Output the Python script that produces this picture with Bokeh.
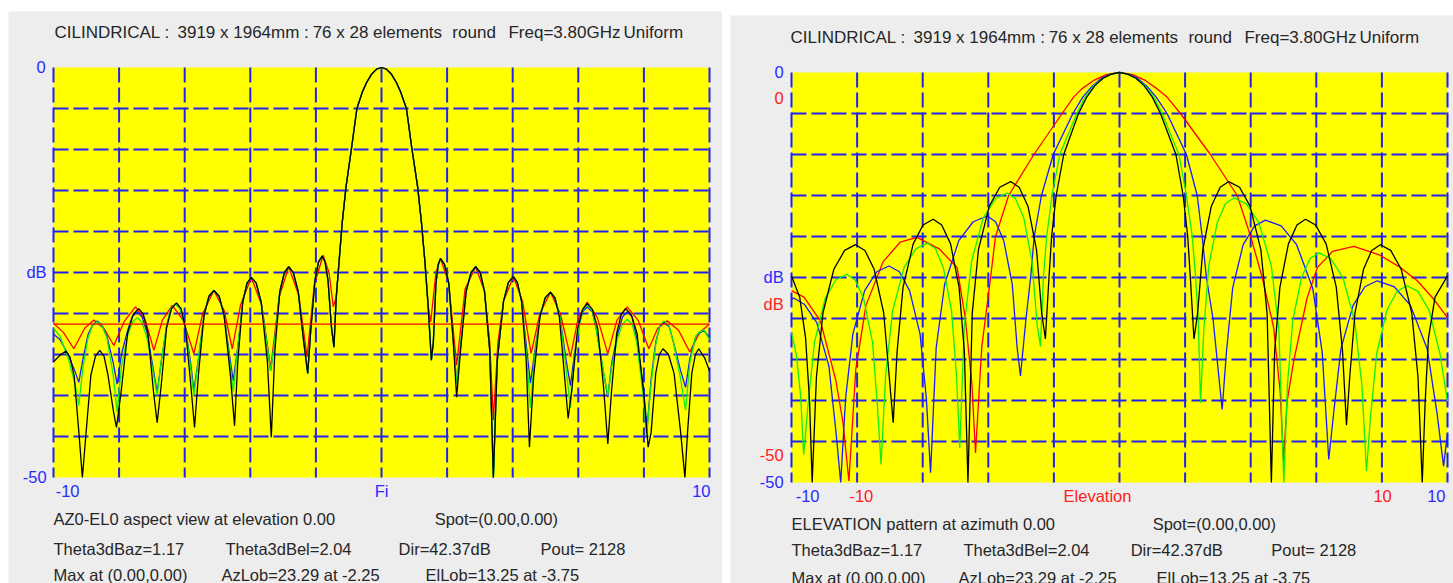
from bokeh.plotting import figure
from bokeh.models import Range1d, Label, Spacer
from bokeh.layouts import row, column
from bokeh.embed import file_html
from bokeh.resources import INLINE

# ---------------- azimuth cut (left panel): (degrees, dB) ----------------
az_main = [(-1.38, -28.0), (-1.30, -24.0), (-1.20, -19.0), (-1.08, -14.5), (-0.92, -10.0),
           (-0.75, -5.0), (-0.585, -3.0), (-0.45, -1.8), (-0.30, -0.8), (-0.15, -0.2),
           (0.0, 0.0), (0.15, -0.2), (0.30, -0.8), (0.45, -1.8), (0.585, -3.0), (0.76, -5.0),
           (0.93, -10.0), (1.10, -14.5), (1.22, -19.0), (1.33, -24.0), (1.42, -29.0)]

az_black_left = [(-10.0, -35.9), (-9.78, -35.0), (-9.63, -34.6), (-9.50, -35.3), (-9.37, -37.6),
                 (-9.22, -44.8), (-9.12, -50.0), (-9.01, -44.7), (-8.86, -37.5), (-8.72, -35.2),
                 (-8.59, -34.5), (-8.46, -35.2), (-8.34, -37.5), (-8.17, -42.0), (-8.08, -43.9),
                 (-7.94, -39.6), (-7.74, -32.4), (-7.57, -30.1), (-7.40, -29.4), (-7.26, -30.1),
                 (-7.12, -32.4), (-6.95, -39.6), (-6.84, -43.3), (-6.72, -38.9), (-6.55, -31.7),
                 (-6.40, -29.4), (-6.25, -28.7), (-6.11, -29.4), (-5.98, -31.7), (-5.81, -38.9),
                 (-5.70, -43.9), (-5.58, -37.4), (-5.41, -30.2), (-5.26, -27.9), (-5.11, -27.2),
                 (-4.95, -27.9), (-4.80, -30.2), (-4.61, -37.4), (-4.48, -43.7), (-4.38, -35.8),
                 (-4.23, -28.6), (-4.10, -26.3), (-3.97, -25.6), (-3.82, -26.3), (-3.67, -28.6),
                 (-3.48, -35.8), (-3.36, -45.1), (-3.25, -34.5), (-3.10, -27.3), (-2.96, -25.0),
                 (-2.83, -24.3), (-2.69, -25.0), (-2.54, -27.3), (-2.37, -33.5), (-2.25, -37.3),
                 (-2.16, -32.2), (-2.03, -26.0), (-1.92, -23.7), (-1.81, -23.0), (-1.72, -23.7),
                 (-1.63, -26.0), (-1.53, -31.5), (-1.45, -34.1)]
az_black_right = [(1.52, -35.7), (1.58, -33.5), (1.66, -26.3), (1.73, -24.0), (1.80, -23.3),
                  (1.92, -24.0), (2.05, -26.3), (2.19, -33.5), (2.29, -40.2), (2.41, -34.5),
                  (2.58, -27.3), (2.73, -25.0), (2.87, -24.3), (3.01, -25.0), (3.14, -27.3),
                  (3.30, -34.5), (3.41, -50.0), (3.53, -35.7), (3.72, -28.5), (3.87, -26.2),
                  (4.02, -25.5), (4.14, -26.2), (4.27, -28.5), (4.41, -35.7), (4.51, -46.3),
                  (4.64, -37.6), (4.83, -30.4), (4.99, -28.1), (5.15, -27.4), (5.29, -28.1),
                  (5.42, -30.4), (5.58, -37.6), (5.69, -42.8), (5.81, -39.0), (5.98, -31.8),
                  (6.13, -29.5), (6.27, -28.8), (6.43, -29.5), (6.59, -31.8), (6.77, -39.0),
                  (6.90, -45.9), (7.01, -39.6), (7.17, -32.4), (7.31, -30.1), (7.44, -29.4),
                  (7.61, -30.1), (7.79, -32.4), (7.99, -39.6), (8.13, -46.3), (8.22, -44.5),
                  (8.36, -37.3), (8.47, -35.0), (8.58, -34.3), (8.75, -35.0), (8.92, -37.3),
                  (9.12, -44.5), (9.25, -50.0), (9.33, -44.5), (9.46, -37.3), (9.57, -35.0),
                  (9.67, -34.3), (9.85, -35.4), (10.0, -37.0)]

az_blue_left = [(-10.0, -32.5), (-9.80, -33.2), (-9.55, -35.0), (-9.35, -37.0), (-9.23, -38.4),
                (-9.10, -35.5), (-8.95, -32.6), (-8.81, -31.4), (-8.67, -30.9), (-8.52, -31.4),
                (-8.37, -32.8), (-8.18, -36.0), (-8.06, -38.6), (-7.93, -35.0), (-7.75, -32.2),
                (-7.60, -30.4), (-7.45, -29.8), (-7.30, -30.4), (-7.15, -32.3), (-6.97, -36.5),
                (-6.84, -39.6), (-6.72, -36.0), (-6.55, -31.5), (-6.42, -29.4), (-6.28, -28.8),
                (-6.14, -29.4), (-5.98, -31.7), (-5.82, -36.0), (-5.72, -39.4), (-5.58, -35.5),
                (-5.41, -30.2), (-5.26, -27.9), (-5.11, -27.2), (-4.95, -27.9), (-4.80, -30.2),
                (-4.63, -35.2), (-4.52, -38.2), (-4.38, -34.0), (-4.23, -28.6), (-4.10, -26.3),
                (-3.97, -25.6), (-3.82, -26.3), (-3.67, -28.6), (-3.50, -33.5), (-3.38, -37.0),
                (-3.25, -33.0), (-3.10, -27.3), (-2.96, -25.0), (-2.83, -24.3), (-2.69, -25.0),
                (-2.54, -27.3), (-2.37, -33.5), (-2.25, -37.3), (-2.16, -32.2), (-2.03, -26.0),
                (-1.92, -23.7), (-1.81, -23.0), (-1.72, -23.7), (-1.63, -26.0), (-1.53, -31.5),
                (-1.45, -34.1)]
az_blue_right = [(1.52, -35.7), (1.58, -33.5), (1.66, -26.3), (1.73, -24.0), (1.80, -23.3),
                 (1.92, -24.0), (2.05, -26.3), (2.18, -33.0), (2.29, -38.5), (2.41, -34.0),
                 (2.58, -27.3), (2.73, -25.0), (2.87, -24.3), (3.01, -25.0), (3.14, -27.3),
                 (3.30, -34.5), (3.41, -50.0), (3.53, -35.7), (3.72, -28.5), (3.87, -26.2),
                 (4.02, -25.5), (4.14, -26.2), (4.27, -28.5), (4.43, -34.5), (4.54, -38.5),
                 (4.66, -35.0), (4.83, -30.4), (4.99, -28.1), (5.15, -27.4), (5.29, -28.1),
                 (5.44, -30.4), (5.62, -35.5), (5.76, -38.8), (5.88, -35.0), (6.02, -31.5),
                 (6.13, -29.8), (6.27, -29.2), (6.43, -29.8), (6.55, -32.0), (6.76, -37.0),
                 (6.90, -40.2), (7.02, -36.0), (7.20, -32.5), (7.35, -30.4), (7.49, -29.8),
                 (7.64, -30.4), (7.78, -33.0), (7.98, -39.0), (8.10, -43.9), (8.22, -38.0),
                 (8.36, -33.5), (8.48, -31.6), (8.61, -31.1), (8.77, -31.6), (8.90, -33.5),
                 (9.12, -37.0), (9.27, -39.0), (9.40, -35.5), (9.58, -32.8), (9.68, -32.4),
                 (9.83, -32.1), (10.0, -32.9)]

az_green_left = [(-10.0, -31.8), (-9.80, -32.8), (-9.55, -35.5), (-9.35, -38.5), (-9.23, -41.2),
                 (-9.10, -36.5), (-8.95, -33.0), (-8.81, -31.5), (-8.67, -31.0), (-8.52, -31.5),
                 (-8.37, -33.0), (-8.18, -37.5), (-8.06, -42.0), (-7.93, -36.5), (-7.75, -32.8),
                 (-7.60, -31.1), (-7.45, -30.5), (-7.30, -31.1), (-7.15, -33.0), (-6.97, -37.0),
                 (-6.84, -40.0), (-6.72, -36.0), (-6.55, -31.5), (-6.42, -29.4), (-6.28, -28.8),
                 (-6.14, -29.4), (-5.98, -31.7), (-5.82, -36.5), (-5.72, -40.0), (-5.58, -35.5),
                 (-5.41, -30.2), (-5.26, -27.9), (-5.11, -27.2), (-4.95, -27.9), (-4.80, -30.2),
                 (-4.63, -35.8), (-4.52, -39.5), (-4.38, -34.0), (-4.23, -28.6), (-4.10, -26.3),
                 (-3.97, -25.6), (-3.82, -26.3), (-3.67, -28.6), (-3.50, -33.5), (-3.38, -37.0),
                 (-3.25, -33.0), (-3.10, -27.3), (-2.96, -25.0), (-2.83, -24.3), (-2.69, -25.0),
                 (-2.54, -27.3), (-2.37, -33.5), (-2.25, -37.3), (-2.16, -32.2), (-2.03, -26.0),
                 (-1.92, -23.7), (-1.81, -23.0), (-1.72, -23.7), (-1.63, -26.0), (-1.53, -31.5),
                 (-1.45, -34.1)]
az_green_right = [(1.52, -35.7), (1.58, -33.5), (1.66, -26.3), (1.73, -24.0), (1.80, -23.3),
                  (1.92, -24.0), (2.05, -26.3), (2.18, -33.0), (2.29, -38.5), (2.41, -34.0),
                  (2.58, -27.3), (2.73, -25.0), (2.87, -24.3), (3.01, -25.0), (3.14, -27.3),
                  (3.30, -34.5), (3.41, -50.0), (3.53, -35.7), (3.72, -28.5), (3.87, -26.2),
                  (4.02, -25.5), (4.14, -26.2), (4.27, -28.5), (4.43, -35.5), (4.54, -41.5),
                  (4.66, -35.5), (4.83, -30.4), (4.99, -28.1), (5.15, -27.4), (5.29, -28.1),
                  (5.44, -30.4), (5.62, -36.5), (5.76, -41.5), (5.88, -35.5), (6.02, -31.5),
                  (6.13, -29.6), (6.27, -29.0), (6.43, -29.6), (6.55, -32.0), (6.76, -37.0),
                  (6.90, -40.0), (7.02, -36.5), (7.20, -33.0), (7.35, -31.3), (7.49, -30.7),
                  (7.64, -31.3), (7.78, -33.5), (7.98, -40.0), (8.08, -45.0), (8.22, -38.5),
                  (8.36, -33.8), (8.48, -31.5), (8.61, -30.9), (8.77, -31.5), (8.90, -33.5),
                  (9.12, -38.0), (9.27, -41.8), (9.40, -36.0), (9.58, -32.8), (9.68, -32.3),
                  (9.83, -32.0), (10.0, -33.2)]

az_red_left = [(-10.0, -31.2), (-9.70, -32.3), (-9.38, -34.3), (-9.05, -31.8), (-8.77, -30.8),
               (-8.45, -31.9), (-8.16, -33.9), (-7.85, -31.0), (-7.50, -29.2), (-7.20, -30.8),
               (-6.94, -34.5), (-6.68, -30.8), (-6.38, -29.0), (-6.05, -30.8), (-5.72, -34.9),
               (-5.45, -30.0), (-5.11, -27.2), (-4.80, -29.6), (-4.55, -34.3), (-4.30, -29.0),
               (-3.97, -25.6), (-3.65, -29.0), (-3.38, -36.7), (-3.12, -28.0), (-2.83, -24.3),
               (-2.52, -27.8), (-2.27, -35.3), (-2.05, -26.5), (-1.78, -22.9), (-1.60, -25.0),
               (-1.47, -29.2)]
az_red_right = [(1.50, -31.0), (1.58, -28.0), (1.66, -25.0), (1.80, -23.3), (2.05, -26.3),
                (2.29, -36.3), (2.55, -27.0), (2.87, -24.3), (3.14, -27.3), (3.30, -33.5),
                (3.41, -43.0), (3.55, -33.5), (3.72, -28.5), (4.02, -25.5), (4.30, -28.5),
                (4.56, -34.9), (4.83, -30.0), (5.15, -27.4), (5.45, -30.0), (5.76, -35.3),
                (6.00, -30.5), (6.27, -28.6), (6.58, -30.5), (6.90, -34.9), (7.18, -30.8),
                (7.49, -29.2), (7.82, -30.8), (8.15, -34.3), (8.42, -31.8), (8.71, -30.9),
                (9.05, -32.0), (9.40, -34.7), (9.70, -32.3), (10.0, -31.3)]

az_red_level = [(-10.0, -31.3), (10.0, -31.3)]

# ---------------- elevation cut (right panel): (degrees, dB) ----------------
el_black = [(-10.0, -24.8), (-9.75, -27.4), (-9.57, -32.4), (-9.45, -40.1), (-9.37, -50.0),
            (-9.24, -37.1), (-9.04, -29.3), (-8.71, -24.0), (-8.38, -21.7), (-8.05, -21.0),
            (-7.76, -21.7), (-7.48, -24.0), (-7.19, -29.3), (-7.02, -37.1), (-6.90, -42.7),
            (-6.78, -34.0), (-6.60, -26.2), (-6.29, -20.9), (-5.99, -18.6), (-5.68, -17.9),
            (-5.42, -18.6), (-5.15, -20.9), (-4.89, -26.2), (-4.73, -34.0), (-4.62, -50.0),
            (-4.49, -29.4), (-4.30, -21.6), (-3.97, -16.3), (-3.65, -14.0), (-3.32, -13.3),
            (-3.06, -14.0), (-2.79, -16.3), (-2.53, -21.6), (-2.37, -29.4), (-2.26, -32.5),
            (-2.15, -25.0), (-2.07, -20.0), (-1.93, -15.0), (-1.70, -10.0), (-1.25, -5.0),
            (-1.0, -3.0), (-0.75, -1.6), (-0.5, -0.7), (-0.25, -0.2), (0.0, 0.0), (0.25, -0.2),
            (0.5, -0.7), (0.75, -1.6), (1.0, -3.0), (1.25, -5.0), (1.72, -10.0), (1.94, -15.0),
            (2.08, -20.0), (2.16, -25.0), (2.27, -32.5), (2.38, -29.4), (2.54, -21.6),
            (2.80, -16.3), (3.07, -14.0), (3.33, -13.3), (3.66, -14.0), (3.98, -16.3),
            (4.31, -21.6), (4.50, -29.4), (4.63, -50.0), (4.73, -34.0), (4.89, -26.2),
            (5.15, -20.9), (5.41, -18.6), (5.67, -17.9), (5.98, -18.6), (6.30, -20.9),
            (6.61, -26.2), (6.80, -34.0), (6.92, -43.0), (7.02, -37.1), (7.18, -29.3),
            (7.44, -24.0), (7.69, -21.7), (7.95, -21.0), (8.27, -21.7), (8.59, -24.0),
            (8.91, -29.3), (9.10, -37.1), (9.23, -50.0), (9.32, -40.1), (9.42, -32.4),
            (9.62, -27.4), (10.0, -24.8)]

el_green = [(-10.0, -31.7), (-9.85, -34.5), (-9.72, -39.5), (-9.63, -46.6), (-9.50, -40.7),
            (-9.30, -32.9), (-8.98, -27.6), (-8.65, -25.3), (-8.32, -24.6), (-8.06, -25.3),
            (-7.80, -27.6), (-7.53, -32.9), (-7.38, -40.7), (-7.27, -47.8), (-7.13, -36.9),
            (-6.92, -29.1), (-6.57, -23.8), (-6.21, -21.5), (-5.86, -20.8), (-5.61, -21.5),
            (-5.37, -23.8), (-5.12, -29.1), (-4.97, -36.9), (-4.87, -45.8), (-4.73, -30.8),
            (-4.51, -23.0), (-4.15, -17.7), (-3.78, -15.4), (-3.42, -14.7), (-3.17, -15.4),
            (-2.92, -17.7), (-2.67, -23.0), (-2.51, -30.8), (-2.41, -33.4), (-2.32, -25.0),
            (-2.22, -20.0), (-2.06, -15.0), (-1.82, -10.0), (-1.30, -5.0), (-1.05, -3.0),
            (-0.78, -1.6), (-0.5, -0.7), (-0.25, -0.2), (0.0, 0.0), (0.25, -0.2), (0.5, -0.7),
            (0.78, -1.6), (1.05, -3.0), (1.30, -5.0), (1.81, -10.0), (2.04, -15.0),
            (2.22, -20.0), (2.32, -25.0), (2.40, -30.0), (2.47, -40.3), (2.57, -31.4),
            (2.72, -23.6), (2.98, -18.3), (3.23, -16.0), (3.48, -15.3), (3.86, -16.0),
            (4.25, -18.3), (4.63, -23.6), (4.86, -31.4), (5.01, -50.0), (5.12, -38.1),
            (5.28, -30.3), (5.55, -25.0), (5.81, -22.7), (6.08, -22.0), (6.44, -22.7),
            (6.81, -25.0), (7.17, -30.3), (7.39, -38.1), (7.53, -48.6), (7.65, -42.1),
            (7.84, -34.3), (8.15, -29.0), (8.46, -26.7), (8.77, -26.0), (9.10, -26.7),
            (9.44, -29.0), (9.77, -34.3), (10.0, -40.1)]

el_blue = [(-10.0, -27.7), (-9.93, -27.5), (-9.60, -28.3), (-9.23, -30.5), (-8.86, -35.8),
           (-8.65, -43.6), (-8.50, -50.0), (-8.35, -39.7), (-8.13, -31.9), (-7.77, -26.6),
           (-7.40, -24.3), (-7.03, -23.6), (-6.71, -24.3), (-6.40, -26.6), (-6.08, -31.9),
           (-5.89, -39.7), (-5.76, -48.8), (-5.59, -33.6), (-5.33, -25.8), (-4.90, -20.5),
           (-4.46, -18.2), (-4.03, -17.5), (-3.78, -18.2), (-3.53, -20.5), (-3.27, -25.8),
           (-3.12, -33.6), (-3.02, -37.0), (-2.85, -30.0), (-2.71, -25.0), (-2.60, -20.0),
           (-2.38, -15.0), (-2.02, -10.0), (-1.42, -5.0), (-1.12, -3.0), (-0.84, -1.7),
           (-0.55, -0.7), (-0.28, -0.2), (0.0, 0.0), (0.28, -0.2), (0.55, -0.7), (0.84, -1.7),
           (1.12, -3.0), (1.45, -5.0), (2.04, -10.0), (2.37, -15.0), (2.52, -20.0),
           (2.65, -25.0), (2.85, -30.0), (3.13, -41.1), (3.26, -34.1), (3.45, -26.3),
           (3.77, -21.0), (4.12, -18.7), (4.45, -18.0), (4.93, -18.7), (5.40, -21.0),
           (5.89, -26.3), (6.18, -34.1), (6.38, -47.2), (6.53, -41.5), (6.75, -33.7),
           (7.12, -28.4), (7.49, -26.1), (7.86, -25.4), (8.37, -26.1), (8.87, -28.4),
           (9.38, -33.7), (9.68, -41.5), (9.88, -48.0), (10.0, -44.0)]

el_red = [(-10.0, -26.6), (-9.62, -27.4), (-9.12, -30.3), (-8.65, -37.5), (-8.43, -42.7),
          (-8.25, -49.8), (-8.04, -36.2), (-7.73, -28.4), (-7.21, -23.1), (-6.69, -20.7),
          (-6.17, -20.1), (-5.50, -21.5), (-4.95, -23.8), (-4.70, -30.0), (-4.50, -38.0),
          (-4.39, -46.4), (-4.20, -33.5), (-3.93, -25.0), (-3.78, -20.0), (-3.38, -15.0),
          (-2.61, -10.0), (-1.75, -5.0), (-1.40, -3.0), (-1.15, -2.0), (-0.80, -1.0),
          (-0.40, -0.25), (0.0, 0.0), (0.40, -0.25), (0.80, -1.0), (1.15, -2.0), (1.45, -3.0),
          (1.86, -5.0), (2.77, -10.0), (3.59, -15.0), (4.00, -20.0), (4.35, -25.0),
          (4.70, -31.1), (4.90, -39.0), (5.00, -47.4), (5.11, -40.1), (5.31, -35.2),
          (5.72, -27.5), (6.03, -23.8), (6.50, -21.8), (7.14, -21.2), (7.90, -22.2),
          (8.57, -23.8), (9.08, -25.4), (9.55, -27.5), (10.0, -29.9)]

# grid positions (degrees, dB)
grid_deg = [-10, -8, -6, -4, -2, 0, 2, 4, 6, 8, 10]
grid_db = [-45, -40, -35, -30, -25, -20, -15, -10, -5]

# ---------------- texts ----------------
title_parts = ["CILINDRICAL :", "3919 x 1964mm :", "76 x 28 elements", "round",
               "Freq=3.80GHz", "Uniform"]
info_line2 = ["Theta3dBaz=1.17", "Theta3dBel=2.04", "Dir=42.37dB", "Pout= 2128"]
info_line3 = ["Max at (0.00,0.00)", "AzLob=23.29  at  -2.25", "ElLob=13.25  at  -3.75"]
spot_text = "Spot=(0.00,0.00)"

PANEL = "#ededed"
PLOT_BG = "#ffff00"
GRID = "#2020f4"
TXT = "#262626"
AX_BLUE = "#2a2aff"
AX_RED = "#ff2020"
C_BLACK = "#000000"
C_BLUE = "#1a1aff"
C_GREEN = "#10ee10"
C_RED = "#ff0000"
FONT = "Liberation Sans"
FS = "16.5px"
FS_TITLE = "17px"


def xy(points):
    return [p[0] for p in points], [p[1] for p in points]


def make_panel(width, height, xr, yr):
    # the whole grey panel is the data frame; the yellow pattern area spans -10..10 deg, -50..0 dB
    p = figure(width=width, height=height, x_range=Range1d(*xr), y_range=Range1d(*yr),
               x_axis_type=None, y_axis_type=None, toolbar_location=None,
               output_backend="svg", min_border=0, min_border_left=0, min_border_right=0,
               min_border_top=0, min_border_bottom=0)
    p.background_fill_color = PANEL
    p.border_fill_color = PANEL
    p.outline_line_color = None
    p.quad(left=[-10], right=[10], bottom=[-50], top=[0], fill_color=PLOT_BG, line_color=None)
    p.segment(x0=grid_deg, y0=[0] * len(grid_deg), x1=grid_deg, y1=[-50] * len(grid_deg),
              line_color=GRID, line_width=2, line_dash="15 5")
    p.segment(x0=[-10] * len(grid_db), y0=grid_db, x1=[10] * len(grid_db), y1=grid_db,
              line_color=GRID, line_width=2, line_dash="15 5")
    return p


def put(p, x, y, text, color=TXT, align="left", size=FS):
    p.add_layout(Label(x=x, y=y, text=text, text_color=color, text_font=FONT,
                       text_font_size=size, text_align=align, text_baseline="middle"))


# ---------------- left panel: azimuth cut ----------------
pl = make_panel(714, 572, (-11.372, 10.396), (-62.927, 6.829))

for curve, color in [(az_red_left + az_main + az_red_right, C_RED),
                     (az_blue_left + az_main + az_blue_right, C_BLUE),
                     (az_green_left + az_main + az_green_right, C_GREEN),
                     (az_black_left + az_main + az_black_right, C_BLACK)]:
    xs, ys = xy(curve)
    pl.line(xs, ys, line_color=color, line_width=1.3)
xs, ys = xy(az_red_level)
pl.line(xs, ys, line_color=C_RED, line_width=1.3)

for x, t in zip([-9.97, -6.22, -2.10, 2.16, 3.87, 7.38], title_parts):
    put(pl, x, 4.27, t, size=FS_TITLE)
put(pl, -10.24, 0.0, "0", AX_BLUE, "right")
put(pl, -10.21, -25.0, "dB", AX_BLUE, "right")
put(pl, -10.21, -50.0, "-50", AX_BLUE, "right")
put(pl, -9.57, -51.7, "-10", AX_BLUE, "center")
put(pl, 0.0, -51.7, "Fi", AX_BLUE, "center")
put(pl, 9.75, -51.7, "10", AX_BLUE, "center")
put(pl, -10.0, -55.1, "AZ0-EL0 aspect view at elevation 0.00")
put(pl, 1.62, -55.1, spot_text)
for x, t in zip([-10.0, -4.76, 0.52, 4.85], info_line2):
    put(pl, x, -58.66, t)
for x, t in zip([-10.0, -4.88, 1.34], info_line3):
    put(pl, x, -61.83, t)

# ---------------- right panel: elevation cut ----------------
pr = make_panel(723, 568, (-11.860, 10.183), (-62.317, 6.951))

for curve, color in [(el_red, C_RED), (el_blue, C_BLUE), (el_green, C_GREEN), (el_black, C_BLACK)]:
    xs, ys = xy(curve)
    pr.line(xs, ys, line_color=color, line_width=1.3)

for x, t in zip([-10.03, -6.28, -2.16, 2.10, 3.81, 7.32], title_parts):
    put(pr, x, 4.21, t, size=FS_TITLE)
put(pr, -10.24, 0.0, "0", AX_BLUE, "right")
put(pr, -10.24, -3.17, "0", AX_RED, "right")
put(pr, -10.24, -25.0, "dB", AX_BLUE, "right")
put(pr, -10.24, -28.23, "dB", AX_RED, "right")
put(pr, -10.24, -46.59, "-50", AX_RED, "right")
put(pr, -10.24, -49.88, "-50", AX_BLUE, "right")
put(pr, -9.51, -51.6, "-10", AX_BLUE, "center")
put(pr, -7.87, -51.6, "-10", AX_RED, "center")
put(pr, -0.67, -51.6, "Elevation", AX_RED, "center")
put(pr, 8.02, -51.6, "10", AX_RED, "center")
put(pr, 9.66, -51.6, "10", AX_BLUE, "center")
put(pr, -10.0, -55.0, "ELEVATION pattern at azimuth 0.00")
put(pr, 1.01, -55.0, spot_text)
for x, t in zip([-10.0, -4.76, 0.34, 4.63], info_line2):
    put(pr, x, -58.29, t)
for x, t in zip([-10.0, -4.91, 1.13], info_line3):
    put(pr, x, -61.59, t)

layout = row(Spacer(width=8, height=583),
             column(Spacer(width=714, height=11), pl),
             Spacer(width=8, height=583),
             column(Spacer(width=723, height=15), pr))

open("out.html", "w").write(file_html(layout, INLINE))
